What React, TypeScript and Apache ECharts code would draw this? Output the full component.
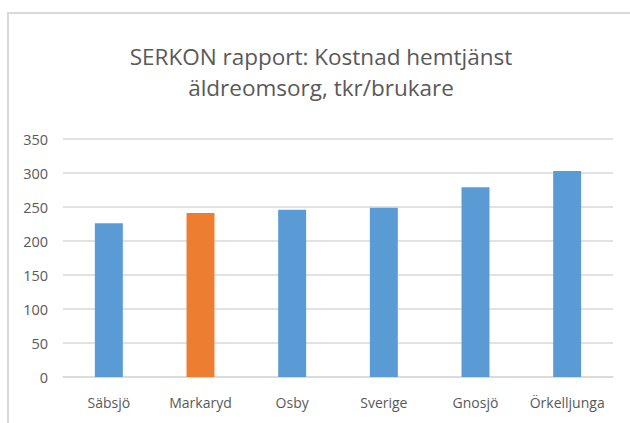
import React, { useEffect, useRef } from "react";
import * as echarts from "echarts";

const categories = ["Säbsjö", "Markaryd", "Osby", "Sverige", "Gnosjö", "Örkelljunga"];
const values = [226, 241, 246, 249, 279, 303];
const highlight = "Markaryd";
const titleLines = ["SERKON rapport: Kostnad hemtjänst", "äldreomsorg, tkr/brukare"];

export default function App() {
  const ref = useRef<HTMLDivElement>(null);
  useEffect(() => {
    if (!ref.current) return;
    const chart = echarts.init(ref.current, undefined, { renderer: "svg" });
    chart.setOption({
      animation: false,
      backgroundColor: "#ffffff",
      title: {
        text: titleLines.join("\n"),
        left: 316,
        top: 36,
        textAlign: "center",
        textStyle: {
          fontFamily: "Open Sans",
          fontSize: 22.5,
          fontWeight: "normal",
          color: "#595959",
          lineHeight: 31,
        },
      },
      graphic: [
        {
          type: "rect",
          shape: { x: 8, y: 13, width: 700, height: 500 },
          style: { fill: "none", stroke: "#d9d9d9", lineWidth: 2 },
          silent: true,
          z: -1,
        },
      ],
      grid: { left: 63, right: 17, top: 139, bottom: 46 },
      xAxis: {
        type: "category",
        data: categories,
        axisLine: { lineStyle: { color: "#d9d9d9", width: 1.5 } },
        axisTick: { show: false },
        axisLabel: {
          interval: 0,
          color: "#595959",
          fontFamily: "Open Sans",
          fontSize: 14,
          margin: 18,
        },
      },
      yAxis: {
        type: "value",
        min: 0,
        max: 350,
        interval: 50,
        axisLine: { show: false },
        axisTick: { show: false },
        splitLine: { lineStyle: { color: "#d9d9d9", width: 1.5 } },
        axisLabel: {
          color: "#595959",
          fontFamily: "Open Sans",
          fontSize: 14.5,
          margin: 15,
        },
      },
      series: [
        {
          type: "bar",
          barWidth: "30.5%",
          data: categories.map((c, i) => ({
            value: values[i],
            itemStyle: { color: c === highlight ? "#ed7d31" : "#5b9bd5" },
          })),
        },
      ],
    });
    return () => chart.dispose();
  }, []);
  return (
    <div
      ref={ref}
      style={{ position: "fixed", left: 0, top: 0, width: 630, height: 423 }}
    />
  );
}
